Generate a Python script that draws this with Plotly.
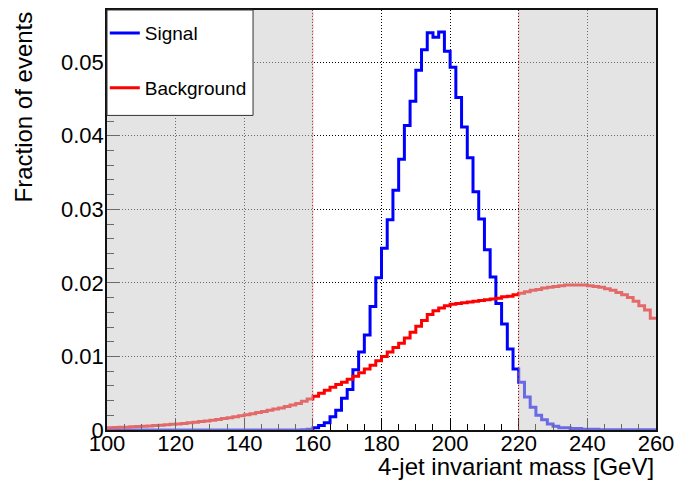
import numpy as np
import plotly.graph_objects as go

# Histogram binning: 96 bins between 100 and 260 GeV
mass_lo, mass_hi, n_bins = 100.0, 260.0, 96

# Fraction of events per bin, signal sample
signal = [
    0.0, 0.0, 0.0, 0.0, 0.0, 0.0, 0.0, 0.0, 0.0, 0.0,
    0.0, 0.0, 0.0, 0.0, 0.0, 0.0, 0.0, 0.0, 0.0, 0.0,
    0.0, 0.0, 0.0, 0.0, 0.0, 0.0, 0.0, 0.0, 0.0, 0.0,
    0.0, 0.0, 0.0, 0.0, 0.00005, 0.0001, 0.0003, 0.0006, 0.0010, 0.0018,
    0.0027, 0.0043, 0.0055, 0.0082, 0.0106, 0.0129, 0.0168, 0.0207, 0.0247, 0.0286,
    0.0326, 0.0368, 0.0414, 0.0447, 0.0489, 0.0517, 0.0540, 0.0534, 0.0541, 0.0515,
    0.0493, 0.0452, 0.0412, 0.0370, 0.0324, 0.0287, 0.0245, 0.0208, 0.0172, 0.0144,
    0.0110, 0.0083, 0.0065, 0.0045, 0.0031, 0.0020, 0.0014, 0.0008, 0.0005, 0.0003,
    0.0003, 0.0002, 0.0002, 0.0001, 0.0001, 0.0001, 0.00005, 0.00005, 0.00005, 0.00005,
    0.00005, 0.00005, 0.00005, 0.00005, 0.00005, 0.00005,
]

# Fraction of events per bin, background sample
background = [
    0.00031, 0.00033, 0.00036, 0.00039, 0.00043, 0.00047, 0.00051, 0.00055, 0.00060, 0.00065,
    0.00071, 0.00077, 0.00083, 0.00090, 0.00097, 0.00105, 0.00114, 0.00123, 0.00133, 0.00144,
    0.00155, 0.00167, 0.00180, 0.00194, 0.00208, 0.00222, 0.00237, 0.00252, 0.00268, 0.00285,
    0.00300, 0.00320, 0.00340, 0.00360, 0.00390, 0.00420, 0.00460, 0.00500, 0.00540, 0.00580,
    0.00620, 0.00650, 0.00690, 0.00730, 0.00780, 0.00830, 0.00880, 0.00940, 0.01000, 0.01060,
    0.01120, 0.01180, 0.01250, 0.01330, 0.01410, 0.01490, 0.01570, 0.01620, 0.01660, 0.01690,
    0.01710, 0.01720, 0.01730, 0.01740, 0.01750, 0.01760, 0.01770, 0.01780, 0.01790, 0.01810,
    0.01820, 0.01840, 0.01860, 0.01880, 0.01900, 0.01910, 0.01930, 0.01940, 0.01950, 0.01960,
    0.01970, 0.01970, 0.01970, 0.01970, 0.01960, 0.01950, 0.01940, 0.01920, 0.01900, 0.01870,
    0.01840, 0.01800, 0.01750, 0.01690, 0.01630, 0.01520,
]

# Mass window kept by the selection
window_lo, window_hi = 160.0, 220.0

edges = np.linspace(mass_lo, mass_hi, n_bins + 1)


def step_trace(values, name, color):
    y = list(values) + [values[-1]]
    return go.Scatter(
        x=edges, y=y, mode="lines", line=dict(shape="hv", color=color, width=3),
        name=name, legendgroup=name, hoverinfo="skip",
    )


fig = go.Figure()
fig.add_trace(step_trace(signal, "Signal", "#0000ff"))
fig.add_trace(step_trace(background, "Background", "#ff0000"))

font_family = "Liberation Sans, Arial, Helvetica, sans-serif"

axis_common = dict(
    automargin=False,
    ticks="inside", tickcolor="black", tickwidth=1,
    showline=True, linecolor="#111111", linewidth=1.5, mirror=True,
    showgrid=True, gridcolor="black", gridwidth=1, griddash="1px,2px",
    zeroline=False, tickfont=dict(size=22, color="black", family=font_family),
)

fig.update_xaxes(
    range=[mass_lo, mass_hi], tick0=100, dtick=20, ticklen=11,
    ticklabelstandoff=-7,
    minor=dict(dtick=5, ticks="inside", ticklen=6, tickcolor="black", showgrid=False),
    **axis_common,
)
fig.update_yaxes(
    range=[0, 0.0571], tick0=0, dtick=0.01, ticklen=13,
    ticklabelstandoff=-3,
    minor=dict(dtick=0.002, ticks="inside", ticklen=7, tickcolor="black", showgrid=False),
    **axis_common,
)

shapes = []
# Shaded side-bands outside the mass window
for x0, x1 in [(mass_lo, window_lo), (window_hi, mass_hi)]:
    shapes.append(dict(
        type="rect", xref="x", yref="paper", x0=x0, x1=x1, y0=0, y1=1,
        fillcolor="rgba(203,203,203,0.52)", line=dict(width=0), layer="above",
    ))
# Window boundaries
for xv in [window_lo, window_hi]:
    shapes.append(dict(
        type="line", xref="x", yref="paper", x0=xv, x1=xv, y0=0, y1=1,
        line=dict(color="rgba(255,80,80,0.55)", width=1, dash="4px,2px"), layer="above",
    ))
# Legend frame
shapes.append(dict(
    type="rect", xref="paper", yref="paper", x0=0, x1=0.266, y0=0.749, y1=1,
    fillcolor="white", line=dict(color="#333333", width=1), layer="above",
))

fig.update_layout(
    width=679, height=485, autosize=False,
    margin=dict(l=107, r=23, t=10, b=55),
    plot_bgcolor="white", paper_bgcolor="white",
    font=dict(family=font_family, color="black"),
    shapes=shapes,
    showlegend=True,
    legend=dict(
        x=-0.004, y=0.99, xanchor="left", yanchor="top",
        bgcolor="rgba(0,0,0,0)", borderwidth=0,
        font=dict(size=19, family=font_family, color="black"),
        tracegroupgap=27, itemwidth=30,
    ),
    annotations=[
        dict(text="4-jet invariant mass [GeV]", xref="paper", yref="paper",
             x=1, y=-0.0875, xanchor="right", yanchor="middle", showarrow=False,
             font=dict(size=24, family=font_family, color="black")),
        dict(text="Fraction of events", xref="paper", yref="paper",
             x=-0.153, y=1, xanchor="center", yanchor="top", textangle=-90,
             showarrow=False, font=dict(size=24, family=font_family, color="black")),
    ],
)

fig.write_html("out.html")
